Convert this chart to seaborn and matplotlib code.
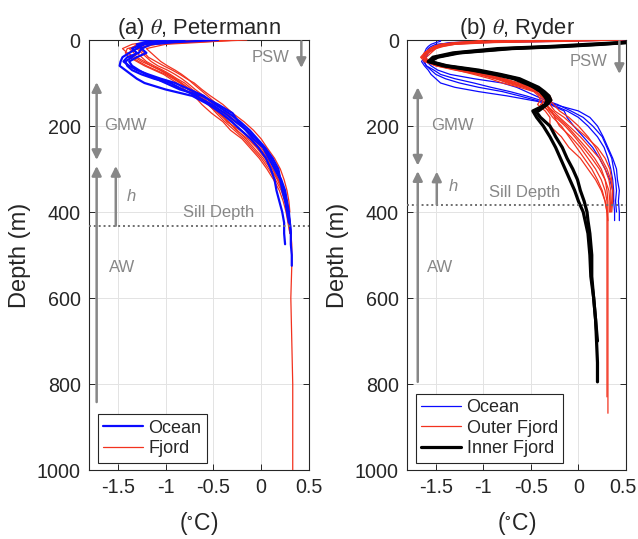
import matplotlib
matplotlib.use("Agg")
import matplotlib.pyplot as plt
import matplotlib.transforms as mtransforms
from matplotlib.lines import Line2D
import pandas as pd
import seaborn as sns

sns.set_style("ticks")
plt.rcParams["font.family"] = ["Liberation Sans", "DejaVu Sans"]
plt.rcParams["mathtext.fontset"] = "stix"

# ---------------- data ----------------
# Petermann depth levels (m)
pm_depth = [0, 5, 10, 20, 30, 40, 50, 60, 70, 80, 90, 100, 115, 130, 150, 170, 190,
            210, 230, 250, 275, 300, 325, 350, 375, 400, 425, 450, 475, 500, 525,
            600, 700, 800, 900, 1000]

pm_ocean = [
    [-1.27, -1.12, -1.22, -1.30, -1.38, -1.45, -1.47, -1.48, -1.42, -1.36, -1.30, -1.22, -1.00, -0.72,
     -0.55, -0.42, -0.31, -0.21, -0.11, -0.03, 0.05, 0.10, 0.14, 0.16, 0.19, 0.22, 0.24, 0.24, 0.25],
    [-0.80, -1.10, -1.25, -1.35, -1.30, -1.35, -1.42, -1.40, -1.35, -1.25, -1.12, -0.95, -0.82, -0.68,
     -0.52, -0.38, -0.27, -0.15, -0.05, 0.03, 0.10, 0.16, 0.21, 0.25, 0.27, 0.29, 0.30, 0.31, 0.31, 0.32, 0.32],
    [-0.45, -0.90, -1.15, -1.25, -1.20, -1.30, -1.38, -1.35, -1.28, -1.20, -1.10, -1.00, -0.85, -0.62,
     -0.45, -0.30, -0.24, -0.16, -0.08, 0.02, 0.08, 0.14, 0.20, 0.24, 0.26, 0.28, 0.30, 0.31],
    [-1.00, -1.20, -1.30, -1.25, -1.28, -1.40, -1.44, -1.38, -1.30, -1.18, -1.05, -0.90, -0.75, -0.60,
     -0.48, -0.34, -0.22, -0.12, -0.04, 0.04, 0.12, 0.18, 0.20, 0.22, 0.25, 0.27, 0.29],
]

pm_fjord = [
    [-0.15, -0.70, -1.10, -1.30, -1.38, -1.35, -1.28, -1.20, -1.10, -1.00, -0.92, -0.85, -0.76, -0.67,
     -0.56, -0.45, -0.35, -0.25, -0.16, -0.08, 0.02, 0.10, 0.17, 0.22, 0.26, 0.28, 0.30, 0.31, 0.32,
     0.32, 0.32, 0.31, 0.32, 0.33, 0.33, 0.33],
    [-0.30, -0.80, -1.20, -1.40, -1.42, -1.38, -1.30, -1.22, -1.12, -1.02, -0.95, -0.88, -0.80, -0.70,
     -0.62, -0.52, -0.40, -0.32, -0.20, -0.12, -0.02, 0.06, 0.13, 0.19, 0.23, 0.26, 0.28, 0.30],
    [-0.50, -0.95, -1.25, -1.30, -1.25, -1.20, -1.15, -1.08, -0.98, -0.90, -0.83, -0.77, -0.69, -0.60,
     -0.50, -0.40, -0.30, -0.21, -0.10, -0.02, 0.07, 0.14, 0.20, 0.24, 0.27, 0.29, 0.30, 0.31, 0.31],
    [-0.90, -1.15, -1.30, -1.35, -1.30, -1.25, -1.20, -1.12, -1.03, -0.95, -0.88, -0.80, -0.72, -0.63,
     -0.52, -0.44, -0.34, -0.26, -0.14, -0.05, 0.04, 0.12, 0.18, 0.22, 0.25, 0.28, 0.29],
    [-1.05, -1.20, -1.35, -1.45, -1.40, -1.32, -1.25, -1.15, -1.05, -0.97, -0.90, -0.83, -0.74, -0.65,
     -0.55, -0.47, -0.38, -0.28, -0.18, -0.10, 0.00, 0.08, 0.15, 0.21, 0.25, 0.27, 0.29, 0.30],
    [-0.25, -0.60, -1.00, -1.20, -1.15, -1.10, -1.05, -0.98, -0.90, -0.83, -0.77, -0.72, -0.64, -0.56,
     -0.46, -0.36, -0.26, -0.16, -0.08, 0.00, 0.08, 0.15, 0.20, 0.24, 0.27, 0.29],
    [-0.70, -1.05, -1.28, -1.38, -1.33, -1.30, -1.22, -1.15, -1.06, -0.98, -0.90, -0.84, -0.76, -0.66,
     -0.52, -0.42, -0.36, -0.22, -0.12, -0.04, 0.06, 0.12, 0.18, 0.23, 0.26, 0.28, 0.30, 0.31],
    [-0.40, -0.85, -1.15, -1.28, -1.22, -1.18, -1.10, -1.02, -0.93, -0.85, -0.78, -0.70, -0.62, -0.53,
     -0.40, -0.30, -0.18, -0.08, 0.00, 0.06, 0.14, 0.20, 0.24, 0.27, 0.29, 0.30],
]

# Ryder depth levels (m)
ry_depth = [0, 3, 6, 10, 15, 20, 30, 40, 50, 60, 70, 80, 90, 100, 110, 120, 130, 140, 150, 165,
            180, 200, 225, 250, 275, 300, 325, 350, 375, 400, 420, 450, 500, 550, 600, 650, 700,
            750, 795, 830, 868]

ry_ocean = [
    [0.50, -0.60, -1.30, -1.50, -1.55, -1.58, -1.60, -1.62, -1.65, -1.62, -1.58, -1.55, -1.50, -1.45,
     -1.30, -1.05, -0.75, -0.50, -0.25, 0.00, 0.12, 0.20, 0.26, 0.31, 0.36, 0.40, 0.41, 0.43, 0.42, 0.43, 0.43],
    [-1.46, -1.45, -1.50, -1.55, -1.58, -1.60, -1.62, -1.60, -1.63, -1.60, -1.55, -1.50, -1.40, -1.25,
     -1.05, -0.80, -0.62, -0.45, -0.30, -0.15, -0.12, -0.05, 0.05, 0.15, 0.22, 0.28, 0.33, 0.36, 0.37, 0.38, 0.38],
    [0.40, -0.20, -1.00, -1.40, -1.50, -1.55, -1.58, -1.60, -1.60, -1.55, -1.48, -1.35, -1.10, -0.80,
     -0.65, -0.55, -0.45, -0.35, -0.22, -0.08, 0.05, 0.15, 0.25, 0.30, 0.35, 0.37, 0.39, 0.40, 0.39, 0.40],
    [0.20, -0.80, -1.35, -1.45, -1.52, -1.55, -1.60, -1.63, -1.62, -1.60, -1.52, -1.45, -1.30, -1.10,
     -0.92, -0.72, -0.55, -0.40, -0.28, -0.12, 0.00, 0.10, 0.20, 0.27, 0.31, 0.34, 0.36, 0.37, 0.37],
]

ry_outer = [
    [0.30, -0.50, -1.10, -1.35, -1.45, -1.50, -1.58, -1.63, -1.60, -1.45, -1.20, -1.00, -0.80, -0.65,
     -0.50, -0.42, -0.38, -0.36, -0.33, -0.30, -0.22, -0.12, -0.02, 0.08, 0.17, 0.24, 0.28, 0.30, 0.31,
     0.31, 0.31, 0.31, 0.31, 0.31, 0.31, 0.31, 0.31, 0.31, 0.31, 0.31, 0.31],
    [-0.60, -0.90, -1.20, -1.40, -1.50, -1.55, -1.62, -1.66, -1.62, -1.50, -1.25, -1.05, -0.88, -0.72,
     -0.55, -0.45, -0.40, -0.33, -0.36, -0.28, -0.25, -0.20, -0.08, 0.02, 0.10, 0.18, 0.24, 0.28, 0.30,
     0.30, 0.30, 0.30, 0.30, 0.30, 0.30, 0.30, 0.30, 0.30, 0.30, 0.30],
    [0.50, -0.30, -1.00, -1.30, -1.42, -1.50, -1.55, -1.60, -1.62, -1.40, -1.10, -0.90, -0.70, -0.57,
     -0.45, -0.35, -0.30, -0.28, -0.30, -0.25, -0.15, -0.05, 0.08, 0.20, 0.28, 0.33, 0.35, 0.36, 0.35, 0.34],
    [-1.00, -1.10, -1.30, -1.45, -1.52, -1.56, -1.60, -1.65, -1.58, -1.48, -1.28, -1.10, -0.93, -0.80,
     -0.62, -0.47, -0.42, -0.40, -0.43, -0.35, -0.30, -0.30, -0.18, -0.10, 0.02, 0.10, 0.18, 0.24, 0.28, 0.30],
    [0.10, -0.70, -1.25, -1.40, -1.48, -1.52, -1.60, -1.62, -1.55, -1.38, -1.15, -0.95, -0.78, -0.62,
     -0.50, -0.38, -0.33, -0.30, -0.26, -0.20, -0.10, 0.00, 0.10, 0.18, 0.24, 0.30, 0.34, 0.36, 0.36, 0.35],
    [-0.20, -0.80, -1.25, -1.42, -1.50, -1.55, -1.62, -1.64, -1.58, -1.42, -1.18, -0.98, -0.82, -0.68,
     -0.55, -0.44, -0.40, -0.38, -0.38, -0.32, -0.27, -0.18, -0.10, -0.02, 0.06, 0.14, 0.20, 0.25, 0.28, 0.30, 0.31],
    [0.45, -0.10, -0.90, -1.30, -1.45, -1.52, -1.58, -1.62, -1.60, -1.50, -1.30, -1.05, -0.85, -0.70,
     -0.52, -0.40, -0.35, -0.32, -0.34, -0.27, -0.20, -0.10, 0.02, 0.12, 0.22, 0.28, 0.32, 0.34, 0.34, 0.33],
    [-0.80, -1.00, -1.28, -1.45, -1.52, -1.56, -1.62, -1.64, -1.60, -1.46, -1.22, -1.02, -0.86, -0.75,
     -0.58, -0.46, -0.37, -0.34, -0.40, -0.30, -0.24, -0.14, -0.04, 0.05, 0.14, 0.22, 0.28, 0.32, 0.33, 0.33],
]

ry_inner = [
    [0.60, 0.55, 0.50, 0.20, -0.20, -0.75, -1.28, -1.50, -1.57, -1.40, -1.10, -0.85, -0.65, -0.55,
     -0.47, -0.40, -0.36, -0.33, -0.35, -0.45, -0.40, -0.30, -0.24, -0.17, -0.12, -0.06, -0.01, 0.02,
     0.06, 0.09, 0.10, 0.12, 0.14, 0.14, 0.16, 0.18, 0.19, 0.20, 0.20],
    [0.60, 0.55, 0.45, 0.10, -0.30, -0.85, -1.32, -1.53, -1.58, -1.42, -1.12, -0.88, -0.68, -0.57,
     -0.45, -0.38, -0.34, -0.31, -0.34, -0.48, -0.44, -0.37, -0.30, -0.24, -0.19, -0.14, -0.09, -0.04,
     0.00, 0.05, 0.07, 0.10, 0.12, 0.13, 0.16, 0.18, 0.20],
    [0.60, 0.58, 0.50, 0.25, -0.15, -0.70, -1.25, -1.48, -1.56, -1.38, -1.05, -0.82, -0.62, -0.52,
     -0.42, -0.36, -0.31, -0.29, -0.33, -0.42],
]

pm_sill = 432
ry_sill = 383
x_ticks = [-1.5, -1, -0.5, 0, 0.5]
x_ticklabels = ["-1.5", "-1", "-0.5", "0", "0.5"]
y_ticks = [0, 200, 400, 600, 800, 1000]


def to_frame(depths, profiles, name):
    rows = []
    for i, prof in enumerate(profiles):
        for z, t in zip(depths, prof):
            rows.append((f"{name}{i}", z, t))
    return pd.DataFrame(rows, columns=["cast", "depth", "temp"])


BLUE = "#0a0aff"
RED = "#f2321e"
GRAY = "#878787"
FRAME = "#262626"

fig = plt.figure(figsize=(6.38, 5.39), dpi=100)
axA = fig.add_axes([89 / 638, 1 - 470 / 539, 220 / 638, 430 / 539])
axB = fig.add_axes([407.3 / 638, 1 - 470 / 539, 218.7 / 638, 430 / 539])


def draw(ax, df, color, lw, zorder):
    sns.lineplot(data=df, x="temp", y="depth", units="cast", estimator=None, sort=False,
                 color=color, lw=lw, ax=ax, legend=False, zorder=zorder)


draw(axA, to_frame(pm_depth, pm_fjord, "f"), RED, 0.9, 3)
draw(axA, to_frame(pm_depth, pm_ocean, "o"), BLUE, 1.6, 4)

draw(axB, to_frame(ry_depth, ry_ocean, "o"), BLUE, 0.9, 3)
draw(axB, to_frame(ry_depth, ry_outer, "r"), RED, 0.9, 4)
draw(axB, to_frame(ry_depth, ry_inner, "k"), "black", 2.3, 5)


def arrow(ax, x, z0, z1, style="-|>"):
    ax.annotate("", xy=(x, z1), xytext=(x, z0),
                arrowprops=dict(arrowstyle=style, color=GRAY, lw=1.8,
                                mutation_scale=14, shrinkA=0, shrinkB=0),
                zorder=6)


def style(ax, title, sill, ann):
    ax.set_xlim(-1.8, 0.5)
    ax.set_ylim(1000, 0)
    ax.set_xticks(x_ticks)
    ax.set_xticklabels(x_ticklabels)
    ax.set_yticks(y_ticks)
    ax.grid(True, color="#e3e3e3", lw=0.7, zorder=0)
    ax.set_axisbelow(True)
    for s in ax.spines.values():
        s.set_visible(True)
        s.set_color(FRAME)
        s.set_linewidth(0.8)
    ax.tick_params(direction="in", length=4, width=0.7, color=FRAME,
                   top=True, right=True, labelsize=14.2, pad=6)
    ax.set_xlabel("($^{\\circ}$C)", fontsize=16.5, labelpad=9)
    ax.set_ylabel("Depth (m)", fontsize=17, labelpad=4)
    ax.set_title(title, fontsize=15.8, pad=4)
    ax.axhline(sill, color="#6e6e6e", ls=(0, (1, 1.5)), lw=1.4, zorder=6)
    # annotations
    (psw_x, psw_z1, psw_tx, psw_tz, gx, g0, g1, g_tx, aw0, aw1, hx, h1, h_tx, h_tz,
     sd_tx, sd_tz) = ann
    arrow(ax, psw_x, 3, psw_z1)
    ax.text(psw_tx, psw_tz, "PSW", color=GRAY, fontsize=12, ha="center", va="center")
    arrow(ax, gx, g0, g1, "<|-|>")
    ax.text(g_tx, 199, "GMW", color=GRAY, fontsize=12, ha="center", va="center")
    arrow(ax, gx, aw0, aw1)
    ax.text(-1.45, 530, "AW", color=GRAY, fontsize=12, ha="center", va="center")
    arrow(ax, hx, sill, h1)
    ax.text(h_tx, h_tz, "h", color=GRAY, fontsize=12, style="italic", ha="center", va="center")
    ax.text(sd_tx, sd_tz, "Sill Depth", color=GRAY, fontsize=12, ha="center", va="center")


style(axA, "(a) $\\theta$, Petermann", pm_sill,
      (0.42, 65, 0.10, 41, -1.72, 98, 279, -1.42, 842, 293, -1.52, 293, -1.36, 364, -0.45, 402))
style(axB, "(b) $\\theta$, Ryder", ry_sill,
      (0.43, 79, 0.11, 51, -1.69, 110, 292, -1.33, 795, 305, -1.49, 306, -1.32, 341, -0.57, 355))

# keep the last x tick label of the right panel inside the canvas
last_lbl = axB.get_xticklabels()[-1]
last_lbl.set_transform(last_lbl.get_transform()
                       + mtransforms.ScaledTranslation(-3 / 100, 0, fig.dpi_scale_trans))

legA = [Line2D([], [], color=BLUE, lw=1.6, label="Ocean"),
        Line2D([], [], color=RED, lw=0.9, label="Fjord")]
legB = [Line2D([], [], color=BLUE, lw=0.9, label="Ocean"),
        Line2D([], [], color=RED, lw=0.9, label="Outer Fjord"),
        Line2D([], [], color="black", lw=2.3, label="Inner Fjord")]
for ax, handles in ((axA, legA), (axB, legB)):
    lg = ax.legend(handles=handles, loc="lower left", bbox_to_anchor=(0.04, 0.017),
                   borderaxespad=0, fontsize=13, frameon=True, fancybox=False,
                   handlelength=2.2, handletextpad=0.3, borderpad=0.3, labelspacing=0.2)
    lg.get_frame().set_edgecolor(FRAME)
    lg.get_frame().set_linewidth(0.8)
    lg.get_frame().set_alpha(1)
    lg.set_zorder(10)

fig.savefig("out.png", dpi=100)
